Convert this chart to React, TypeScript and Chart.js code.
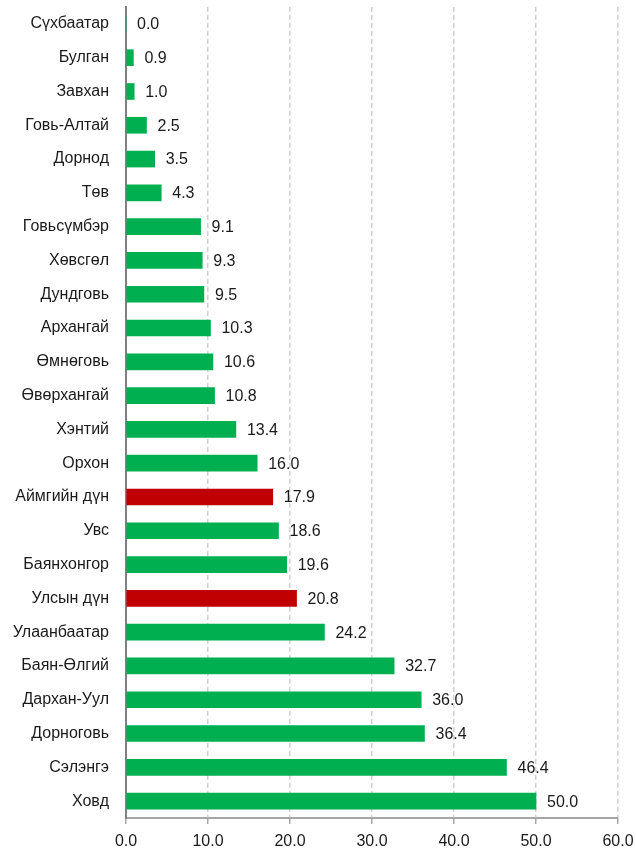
import React, { useEffect, useRef } from "react";
import { Chart, registerables } from "chart.js";

Chart.register(...registerables);

const categories = [
  "Сүхбаатар", "Булган", "Завхан", "Говь-Алтай", "Дорнод", "Төв",
  "Говьсүмбэр", "Хөвсгөл", "Дундговь", "Архангай", "Өмнөговь", "Өвөрхангай",
  "Хэнтий", "Орхон", "Аймгийн дүн", "Увс", "Баянхонгор", "Улсын дүн",
  "Улаанбаатар", "Баян-Өлгий", "Дархан-Уул", "Дорноговь", "Сэлэнгэ", "Ховд",
];
const values = [
  0.0, 0.9, 1.0, 2.5, 3.5, 4.3,
  9.1, 9.3, 9.5, 10.3, 10.6, 10.8,
  13.4, 16.0, 17.9, 18.6, 19.6, 20.8,
  24.2, 32.7, 36.0, 36.4, 46.4, 50.0,
];
const highlighted = ["Аймгийн дүн", "Улсын дүн"];
const xTicks = [0, 10, 20, 30, 40, 50, 60];

const GREEN = "#00B050";
const RED = "#C00000";
const FONT = "'Liberation Sans', Arial, sans-serif";
const FSIZE = 16;

const valueLabels = {
  id: "valueLabels",
  afterDatasetsDraw(chart: any) {
    const ctx = chart.ctx;
    const meta = chart.getDatasetMeta(0);
    ctx.save();
    ctx.font = `${FSIZE}px ${FONT}`;
    ctx.fillStyle = "#1a1a1a";
    ctx.textAlign = "left";
    ctx.textBaseline = "middle";
    meta.data.forEach((el: any, i: number) => {
      ctx.fillText(values[i].toFixed(1), el.x + 11, el.y + 1);
    });
    ctx.restore();
  },
};

export default function App() {
  const ref = useRef<HTMLCanvasElement>(null);
  useEffect(() => {
    if (!ref.current) return;
    const chart = new Chart(ref.current, {
      type: "bar",
      data: {
        labels: categories,
        datasets: [
          {
            data: values,
            backgroundColor: categories.map((c) => (highlighted.includes(c) ? RED : GREEN)),
            barThickness: 16,
            borderWidth: 0,
          },
        ],
      },
      options: {
        indexAxis: "y",
        animation: false,
        responsive: false,
        maintainAspectRatio: false,
        layout: { padding: { top: 7, right: 18, bottom: 0, left: 0 } },
        plugins: { legend: { display: false }, tooltip: { enabled: false } },
        scales: {
          x: {
            min: 0,
            max: 60,
            afterBuildTicks(scale: any) {
              scale.ticks = xTicks.map((v) => ({ value: v }));
            },
            afterFit(scale: any) {
              scale.height = 34;
              scale.paddingLeft = 0;
              scale.paddingRight = 0;
            },
            grid: {
              color: "#d0d0d0",
              lineWidth: 1.5,
              tickColor: "#a6a6a6",
              tickLength: 6,
              tickWidth: 1.5,
            },
            border: { display: true, color: "#a6a6a6", width: 2, dash: [5, 3] },
            ticks: {
              color: "#1a1a1a",
              font: { family: FONT, size: FSIZE },
              padding: 8,
              maxRotation: 0,
              callback: (v: any) => Number(v).toFixed(1),
            },
          },
          y: {
            afterFit(scale: any) {
              scale.width = 126;
              scale.paddingTop = 0;
              scale.paddingBottom = 0;
            },
            grid: { display: false, drawTicks: false },
            border: { display: true, color: "#808080", width: 2 },
            ticks: {
              color: "#1a1a1a",
              font: { family: FONT, size: FSIZE },
              padding: 17,
              autoSkip: false,
            },
          },
        },
      },
      plugins: [valueLabels],
    } as any);
    return () => chart.destroy();
  }, []);
  return (
    <div style={{ position: "fixed", left: 0, top: 0, width: 636, height: 852, background: "#fff" }}>
      <canvas ref={ref} width={636} height={852} style={{ width: 636, height: 852 }} />
    </div>
  );
}
